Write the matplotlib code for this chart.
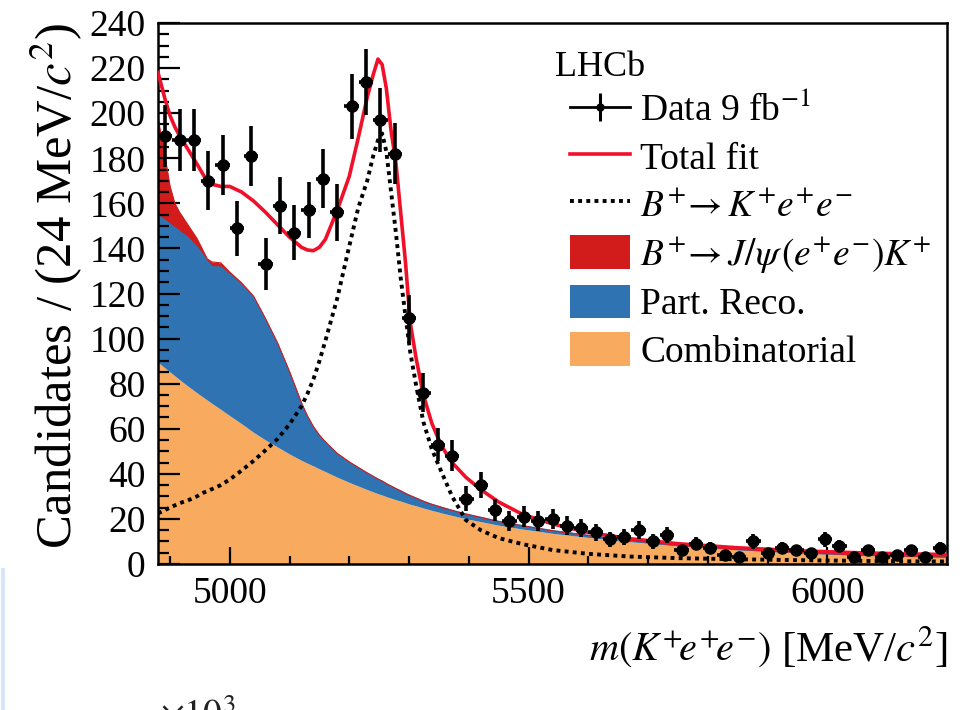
import numpy as np
import matplotlib
matplotlib.use("Agg")
import matplotlib.pyplot as plt
from matplotlib.lines import Line2D
from matplotlib.patches import Patch

plt.rcParams['font.family'] = ['Liberation Serif', 'DejaVu Serif']
plt.rcParams['mathtext.fontset'] = 'stix'

# ---------------- data ----------------
mass_lo, mass_hi, bin_width = 4880, 6200, 24
counts = [190, 188, 188, 170, 177, 149, 181, 133, 159, 147, 157, 171, 156, 203,
          214, 197, 182, 109, 76, 53, 48, 29, 35, 24, 19, 21, 19, 20, 17, 16,
          14, 11, 12, 15, 10, 13, 6, 9, 7, 4, 3, 10, 5, 7, 6, 5, 11, 8, 3, 6,
          3, 4, 6, 3, 7]

m_fit = [4880, 4886, 4892, 4900, 4908, 4916, 4930, 4945, 4955, 4962, 4970, 4985,
         5000, 5020, 5040, 5060, 5080, 5100, 5120, 5130, 5140, 5150, 5160, 5180,
         5200, 5215, 5230, 5240, 5248, 5255, 5262, 5270, 5278, 5286, 5294, 5302,
         5312, 5324, 5338, 5354, 5372, 5395, 5420, 5450, 5490, 5540, 5600, 5670,
         5750, 5850, 5950, 6050, 6130, 6200]
combinatorial = [89.5, 88.2, 86.9, 85.2, 83.5, 81.8, 78.9, 76.0, 74.1, 72.8, 71.3, 68.6,
                 65.8, 62.2, 58.4, 55.0, 51.9, 48.8, 46.0, 44.7, 43.5, 42.2, 41.0, 38.5,
                 36.2, 34.6, 33.0, 32.0, 31.2, 30.6, 29.9, 29.2, 28.5, 27.9, 27.2, 26.5,
                 25.8, 24.8, 23.8, 22.7, 21.5, 20.1, 18.8, 17.2, 15.5, 13.6, 11.8, 9.9,
                 8.0, 6.3, 5.0, 4.0, 3.5, 3.1]
part_reco = [65.0, 65.2, 65.4, 65.5, 65.6, 65.8, 65.8, 64.5, 63.0, 61.5, 60.5, 63.0,
             62.5, 61.5, 59.5, 53.0, 45.5, 36.0, 25.0, 20.5, 17.0, 14.6, 12.8, 10.2,
             8.8, 8.0, 7.2, 6.7, 6.3, 6.0, 5.6, 5.2, 4.8, 4.4, 4.0, 3.7,
             3.3, 2.9, 2.6, 2.4, 2.2, 2.0, 1.8, 1.6, 1.4, 1.1, 0.8, 0.5,
             0.3, 0.2, 0.1, 0.05, 0.0, 0.0]
jpsi_leak = [44, 35, 28, 17, 11, 8.5, 5.8, 4.0, 2.2, 1.2, 2.2, 2.0,
             1.2, 1.0, 0.9, 0.8, 0.7, 0.6, 0.5, 0.48, 0.45, 0.42, 0.4, 0.35,
             0.3, 0.25, 0.2, 0.2, 0.2, 0.2, 0.15, 0.15, 0.15, 0.1, 0.1, 0.1,
             0.1, 0.1, 0, 0, 0, 0, 0, 0, 0, 0, 0, 0,
             0, 0, 0, 0, 0, 0]
signal = [22.5, 23.2, 24.0, 25.0, 26.0, 27.0, 28.2, 30.0, 31.5, 32.3, 33.2, 35.0,
          37.5, 41.5, 45.8, 50.5, 55.5, 62.0, 70.0, 75.5, 82.0, 90.0, 99.0, 118.0,
          141.0, 158.0, 170.0, 181.0, 188.0, 191.0, 183.0, 165.0, 147.0, 127.0, 110.0, 94.0,
          79.0, 63.0, 51.0, 41.0, 30.0, 19.5, 15.0, 11.5, 8.8, 6.2, 4.5, 3.3,
          2.6, 2.1, 1.7, 1.4, 1.2, 1.1]
total_fit = [218, 212, 206, 199, 194, 190, 184, 177.5, 173, 170, 168.5, 167.5,
             167.5, 165, 161, 156, 150.5, 145, 140.5, 139.3, 139, 140.5, 144, 157,
             172, 189, 207, 217, 224, 221.5, 211, 192, 178, 156, 134, 107,
             91, 75, 62.5, 52.5, 45, 38.5, 33, 27.5, 22, 17.8, 14, 11.2,
             9.0, 7.2, 5.9, 5.0, 4.5, 4.2]

x_ticks = [5000, 5500, 6000]
y_ticks = list(range(0, 241, 20))

# ---------------- style ----------------
c_orange = '#f8ab5f'
c_blue = '#2f73b2'
c_redfill = '#d21c1c'
c_line = '#f0102a'

fig = plt.figure(figsize=(9.74, 7.10), dpi=100)
ax = fig.add_axes([158/974, 1-564/710, (947-158)/974, (564-23)/710])

m = np.array(m_fit, float)
c = np.array(combinatorial)
p = np.array(part_reco)
j = np.array(jpsi_leak)

ax.fill_between(m, 0, c, color=c_orange, lw=0, zorder=1)
ax.fill_between(m, c, c + p, color=c_blue, lw=0, zorder=1)
ax.fill_between(m, c + p, c + p + j, color=c_redfill, lw=0, zorder=1)
ax.plot(m, c + p, color=c_blue, lw=1.3, zorder=2)
ax.plot(m, c + p + j, color=c_redfill, lw=0.8, zorder=2)

ax.plot(m, signal, color='k', lw=2.8, ls=(0, (1, 1.1)), zorder=3)
ax.plot(m, total_fit, color=c_line, lw=2.6, zorder=4)

centers = np.arange(mass_lo, mass_hi, bin_width) + bin_width / 2
n = np.array(counts, float)
ax.errorbar(centers, n, yerr=np.sqrt(n), xerr=bin_width / 2, fmt='o', color='k',
            ms=8, elinewidth=2.6, capsize=0, zorder=5)

ax.set_xlim(mass_lo, mass_hi)
ax.set_ylim(0, 240)
ax.set_xticks(x_ticks)
ax.set_yticks(y_ticks)
ax.set_xticks(np.arange(4900, 6201, 100), minor=True)
ax.set_yticks(np.arange(0, 241, 5), minor=True)
for s in ax.spines.values():
    s.set_linewidth(1.8)
ax.tick_params(axis='both', which='both', direction='in', top=False, right=False,
               width=1.6, labelsize=27)
ax.tick_params(axis='x', which='major', length=12, pad=9)
ax.tick_params(axis='x', which='minor', length=6)
ax.tick_params(axis='y', which='major', length=16, pad=9)
ax.tick_params(axis='y', which='minor', length=8)

ax.text(-0.13, 1.0, r'Candidates / (24 MeV/$c^{2}$)', rotation=90, ha='center',
        va='top', fontsize=36.5, transform=ax.transAxes)

t_unit = ax.text(1.0, -0.181, r'[MeV/$c^{2}$]', ha='right', va='baseline',
                 fontsize=31, transform=ax.transAxes)
ax.annotate(r'$m(K^{+}\!e^{+}\!e^{-})$', xy=(0, 0), xycoords=t_unit,
            xytext=(-7, 0.5), textcoords='offset points', ha='right', va='bottom',
            fontsize=29)

ax.text(0.503, 0.918, 'LHCb', fontsize=26, ha='left', va='center', transform=ax.transAxes)

h_data = (Line2D([], [], color='k', lw=2.0, marker='|', ms=20, mew=2.2),
          Line2D([], [], color='k', marker='o', ls='none', ms=5))
h_fit = Line2D([], [], color=c_line, lw=2.6)
h_sig = Line2D([], [], color='k', lw=2.8, ls=(0, (1, 1.1)))
h_jpsi = Patch(facecolor=c_redfill, edgecolor='none')
h_part = Patch(facecolor=c_blue, edgecolor='none')
h_comb = Patch(facecolor=c_orange, edgecolor='none')
labels = ['Data 9 fb$^{-1}$', 'Total fit', r'$B^{+}\!\rightarrow K^{+}e^{+}e^{-}$',
          r'$B^{+}\!\rightarrow J/\psi\,(e^{+}e^{-})K^{+}$', 'Part. Reco.', 'Combinatorial']
leg = ax.legend([h_data, h_fit, h_sig, h_jpsi, h_part, h_comb], labels,
                loc='upper left', bbox_to_anchor=(0.522, 0.873), frameon=False,
                fontsize=27, handlelength=1.6, handleheight=1.0, handletextpad=0.28,
                labelspacing=0.26, borderpad=0, borderaxespad=0)

fig.text(160/974, 1 - 727/710, r'$\times10^{3}$', fontsize=27, color='#222222',
         ha='left', va='baseline')
fig.add_artist(Line2D([0.003, 0.003], [0.0, 1 - 570/710], color='#d6e6f7', lw=3,
                      transform=fig.transFigure))

fig.savefig('out.png', dpi=100)
